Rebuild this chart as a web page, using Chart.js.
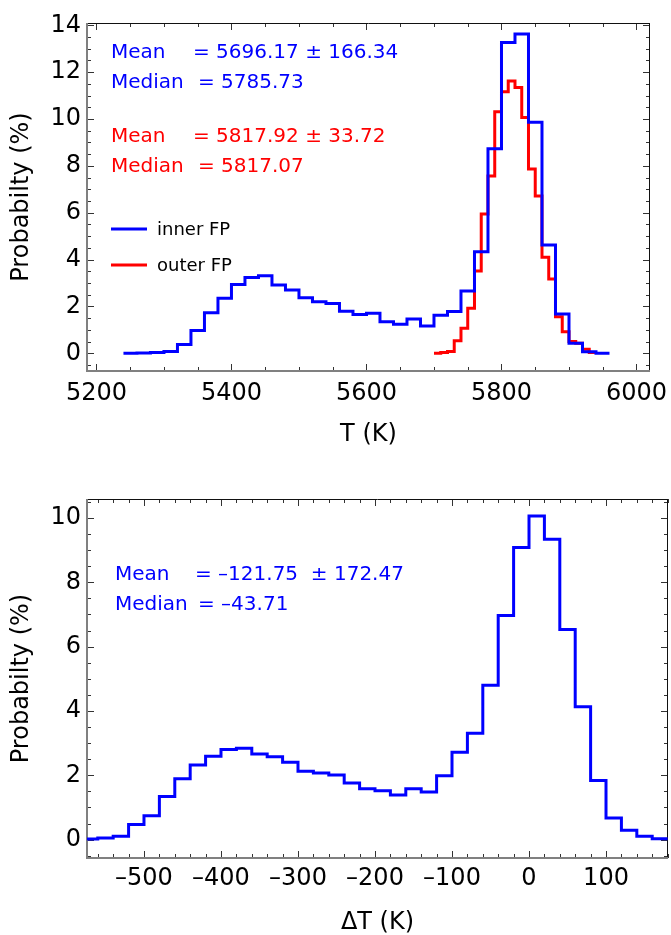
<!DOCTYPE html>
<html>
<head>
<meta charset="utf-8">
<script src="https://cdn.jsdelivr.net/npm/chart.js@4.4.0/dist/chart.umd.min.js"></script>
<style>
  html, body { margin: 0; padding: 0; background: #fff; }
  canvas { position: absolute; left: 0; }
</style>
</head>
<body>
<canvas id="tempChart" width="671" height="465" style="top:0"></canvas>
<canvas id="deltaChart" width="671" height="470" style="top:465px"></canvas>
<script>
// Datos: T (K), bins de 20 K (inner) y 10 K (outer)
const innerEdges = [5240, 5260, 5280, 5300, 5320, 5340, 5360, 5380, 5400, 5420, 5440, 5460,
  5480, 5500, 5520, 5540, 5560, 5580, 5600, 5620, 5640, 5660, 5680, 5700,
  5720, 5740, 5760, 5780, 5800, 5820, 5840, 5860, 5880, 5900, 5920, 5940];
const innerProb = [0.0, 0.01, 0.04, 0.08, 0.38, 0.97, 1.73, 2.35, 2.94, 3.24, 3.31, 2.92,
  2.70, 2.37, 2.20, 2.13, 1.80, 1.66, 1.71, 1.35, 1.24, 1.46, 1.17, 1.63,
  1.78, 2.66, 4.34, 8.73, 13.27, 13.63, 9.86, 4.62, 1.68, 0.43, 0.07, 0.0];

const outerEdges = [5700, 5710, 5720, 5730, 5740, 5750, 5760, 5770, 5780, 5790, 5800, 5810,
  5820, 5830, 5840, 5850, 5860, 5870, 5880, 5890, 5900, 5910, 5920, 5930];
const outerProb = [0.0, 0.03, 0.08, 0.54, 1.07, 1.92, 3.51, 5.95, 7.57, 10.31, 11.17, 11.62,
  11.35, 10.07, 7.87, 6.71, 4.10, 3.17, 1.56, 0.92, 0.50, 0.43, 0.17, 0.03];

// Datos: ΔT (K), bins de 20 K
const deltaEdges = [-580, -560, -540, -520, -500, -480, -460, -440, -420, -400, -380, -360,
  -340, -320, -300, -280, -260, -240, -220, -200, -180, -160, -140, -120,
  -100, -80, -60, -40, -20, 0, 20, 40, 60, 80, 100, 120, 140, 160];
const deltaProb = [0.02, 0.05, 0.11, 0.47, 0.74, 1.34, 1.89, 2.32, 2.59, 2.80, 2.84, 2.66,
  2.58, 2.41, 2.13, 2.07, 2.01, 1.76, 1.58, 1.52, 1.39, 1.58, 1.48, 1.99,
  2.72, 3.31, 4.80, 6.97, 9.08, 10.06, 9.34, 6.53, 4.13, 1.84, 0.67, 0.29, 0.11, 0.03];

// Ticks
const tempTicks = [5200, 5400, 5600, 5800, 6000];
const deltaTicks = [-500, -400, -300, -200, -100, 0, 100];
const tempProbTicks = [0, 2, 4, 6, 8, 10, 12, 14];
const deltaProbTicks = [0, 2, 4, 6, 8, 10];

const tempStats = [
  { color: '#0000ff', label: 'Mean', text: '= 5696.17 ± 166.34', y: 53, tx: 193 },
  { color: '#0000ff', label: 'Median', text: '= 5785.73', y: 83, tx: 198 },
  { color: '#ff0000', label: 'Mean', text: '= 5817.92 ± 33.72', y: 137, tx: 193 },
  { color: '#ff0000', label: 'Median', text: '= 5817.07', y: 167, tx: 198 }
];
const deltaStats = [
  { color: '#0000ff', label: 'Mean', text: '= –121.75  ± 172.47', y: 110, tx: 195 },
  { color: '#0000ff', label: 'Median', text: '= –43.71', y: 140, tx: 198 }
];

Chart.defaults.font.family = 'DejaVu Sans';
Chart.defaults.color = '#000';

// puntos para la línea escalonada (cada bin + borde derecho del último)
function stepPoints(edges, probs, width) {
  const pts = edges.map((e, i) => ({ x: e, y: probs[i] }));
  pts.push({ x: edges[edges.length - 1] + width, y: probs[probs.length - 1] });
  return pts;
}

// marco estilo Mathematica con ticks hacia dentro
const framePlugin = {
  id: 'frame',
  beforeDatasetsDraw(chart, args, opts) {
    const { ctx, chartArea: a, scales: { x, y } } = chart;
    ctx.save();
    ctx.strokeStyle = '#333';
    ctx.lineWidth = 1;
    ctx.beginPath();
    const xMajor = x.ticks.map(t => t.value);
    const yMajor = y.ticks.map(t => t.value);
    for (let v = Math.ceil(x.min / opts.xMinor) * opts.xMinor; v <= x.max; v += opts.xMinor) {
      const len = xMajor.some(m => Math.abs(m - v) < 1e-6) ? 7 : 4;
      const px = Math.round(x.getPixelForValue(v)) + 0.5;
      ctx.moveTo(px, a.bottom); ctx.lineTo(px, a.bottom - len);
      ctx.moveTo(px, a.top); ctx.lineTo(px, a.top + len);
    }
    for (let v = Math.ceil(y.min / opts.yMinor) * opts.yMinor; v <= y.max; v += opts.yMinor) {
      const len = yMajor.some(m => Math.abs(m - v) < 1e-6) ? 7 : 4;
      const py = Math.round(y.getPixelForValue(v)) + 0.5;
      ctx.moveTo(a.left, py); ctx.lineTo(a.left + len, py);
      ctx.moveTo(a.right, py); ctx.lineTo(a.right - len, py);
    }
    ctx.stroke();
    // arriba / derecha
    ctx.strokeStyle = '#111';
    ctx.beginPath();
    ctx.moveTo(a.left, a.top + 0.5); ctx.lineTo(a.right, a.top + 0.5);
    ctx.moveTo(a.right - 0.5, a.top); ctx.lineTo(a.right - 0.5, a.bottom);
    ctx.stroke();
    // izquierda / abajo
    ctx.strokeStyle = '#808080';
    ctx.lineWidth = 2;
    ctx.beginPath();
    ctx.moveTo(a.left, a.top); ctx.lineTo(a.left, a.bottom);
    ctx.lineTo(a.right, a.bottom);
    ctx.stroke();
    ctx.restore();
  },
  afterDatasetsDraw(chart, args, opts) {
    const ctx = chart.ctx;
    ctx.save();
    ctx.textBaseline = 'middle';
    ctx.font = '20px "DejaVu Sans"';
    (opts.stats || []).forEach(s => {
      ctx.fillStyle = s.color;
      ctx.fillText(s.label, opts.statsX, s.y);
      ctx.fillText(s.text, s.tx, s.y);
    });
    if (opts.legend) {
      ctx.font = '18px "DejaVu Sans"';
      chart.data.datasets.forEach((ds, i) => {
        const ly = 229 + i * 36;
        ctx.strokeStyle = ds.borderColor;
        ctx.lineWidth = 3;
        ctx.beginPath();
        ctx.moveTo(111, ly); ctx.lineTo(147, ly);
        ctx.stroke();
        ctx.fillStyle = '#000';
        ctx.fillText(ds.label, 157, ly + 1);
      });
    }
    ctx.restore();
  }
};

function axisX(min, max, tickVals, pad, height, title, fmt) {
  return {
    type: 'linear', min: min, max: max,
    grid: { display: false, drawTicks: false },
    border: { display: false },
    ticks: { padding: pad, maxRotation: 0, autoSkip: false, font: { size: 24 }, callback: fmt },
    afterBuildTicks: s => { s.ticks = tickVals.map(v => ({ value: v })); },
    title: { display: true, text: title, font: { size: 24, lineHeight: 1 }, padding: 0 },
    afterFit: s => { s.height = height; s.paddingLeft = 0; s.paddingRight = 0; }
  };
}

function axisY(min, max, tickVals) {
  return {
    min: min, max: max,
    grid: { display: false, drawTicks: false },
    border: { display: false },
    ticks: { padding: 6, autoSkip: false, font: { size: 24 } },
    afterBuildTicks: s => { s.ticks = tickVals.map(v => ({ value: v })); },
    title: { display: true, text: 'Probabilty (%)', font: { size: 24, lineHeight: 1 }, padding: { top: 10, bottom: 0 } },
    afterFit: s => { s.width = 87; s.paddingTop = 0; s.paddingBottom = 0; }
  };
}

const lineStyle = { borderWidth: 3, stepped: true, pointRadius: 0, fill: false, tension: 0 };

// Gráfico T
new Chart(document.getElementById('tempChart'), {
  type: 'line',
  data: {
    datasets: [
      Object.assign({ label: 'inner FP', data: stepPoints(innerEdges, innerProb, 20), borderColor: '#0000ff' }, lineStyle),
      Object.assign({ label: 'outer FP', data: stepPoints(outerEdges, outerProb, 10), borderColor: '#ff0000' }, lineStyle)
    ]
  },
  options: {
    responsive: false, animation: false, devicePixelRatio: 1,
    layout: { padding: { top: 23, right: 21, left: 0, bottom: 18 } },
    scales: {
      x: axisX(5186, 6020, tempTicks, 8, 76, 'T (K)', v => String(v)),
      y: axisY(-0.755, 14.1, tempProbTicks)
    },
    plugins: {
      legend: { display: false },
      tooltip: { enabled: false },
      frame: { xMinor: 50, yMinor: 0.5, stats: tempStats, statsX: 111, legend: true }
    }
  },
  plugins: [framePlugin]
});

// Gráfico ΔT
new Chart(document.getElementById('deltaChart'), {
  type: 'line',
  data: {
    datasets: [
      Object.assign({ label: 'ΔT', data: stepPoints(deltaEdges, deltaProb, 20), borderColor: '#0000ff' }, lineStyle)
    ]
  },
  options: {
    responsive: false, animation: false, devicePixelRatio: 1,
    layout: { padding: { top: 34, right: 3, left: 0, bottom: 0 } },
    scales: {
      x: axisX(-574, 180.5, deltaTicks, 6, 77, 'ΔT (K)', v => String(v).replace('-', '–')),
      y: axisY(-0.57, 10.59, deltaProbTicks)
    },
    plugins: {
      legend: { display: false },
      tooltip: { enabled: false },
      frame: { xMinor: 20, yMinor: 0.5, stats: deltaStats, statsX: 115, legend: false }
    }
  },
  plugins: [framePlugin]
});
</script>
</body>
</html>
